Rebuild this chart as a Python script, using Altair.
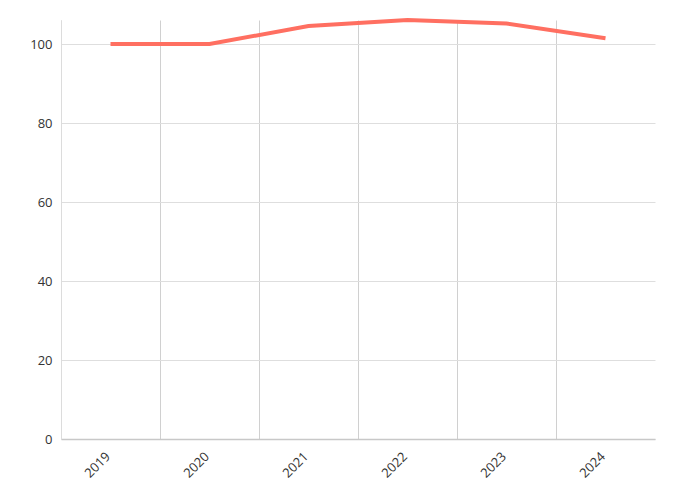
import altair as alt
import pandas as pd

years = ["2019", "2020", "2021", "2022", "2023", "2024"]
values = [100.0, 100.0, 104.6, 106.1, 105.2, 101.5]

df = pd.DataFrame({"year": years, "value": values})

W = 594
H = 419
step = W / len(years)

chart = alt.Chart(df).mark_line(color="#ff6f61", strokeWidth=4).encode(
    x=alt.X(
        "year:O",
        sort=years,
        scale=alt.Scale(type="point", padding=0.5),
        axis=alt.Axis(
            title=None,
            labelAngle=-45,
            grid=True,
            gridColor="#d0d0d0",
            ticks=False,
            tickOffset=-step / 2,
            labelOffset=step / 2 - 7,
            domainColor="#c8c8c8",
            domainWidth=1.5,
            labelPadding=11,
        ),
    ),
    y=alt.Y(
        "value:Q",
        scale=alt.Scale(domain=[0, 106.1], nice=False, zero=True),
        axis=alt.Axis(
            title=None,
            values=[0, 20, 40, 60, 80, 100],
            ticks=False,
            grid=True,
            gridColor="#dedede",
            domainColor="#dcdcdc",
            labelPadding=9,
        ),
    ),
).properties(
    width=W,
    height=H,
    autosize=alt.AutoSizeParams(type="none"),
    padding={"top": 12, "left": 53, "right": 10, "bottom": 50},
).configure_view(stroke=None).configure_axis(
    labelFont="Open Sans",
    labelFontSize=13,
    labelColor="#333333",
)

chart.save("out.html", embed_options={"renderer": "svg", "actions": False})
